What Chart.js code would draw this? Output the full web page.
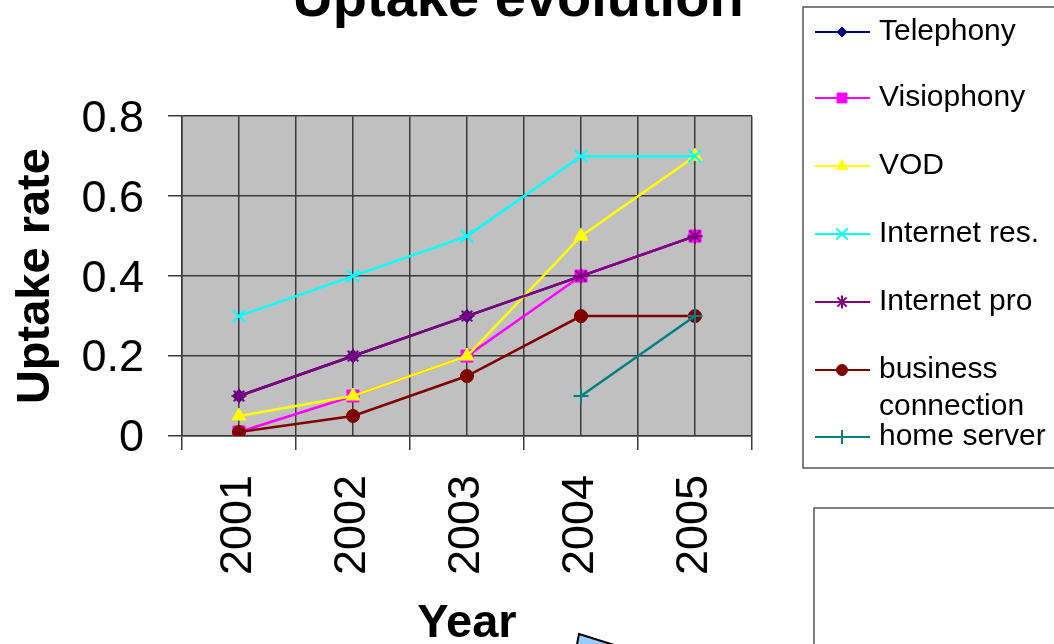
<!DOCTYPE html>
<html>
<head>
<meta charset="utf-8">
<script src="https://cdn.jsdelivr.net/npm/chart.js@4.4.1/dist/chart.umd.min.js"></script>
<style>
  html, body { margin: 0; padding: 0; background: #fff; overflow: hidden; width: 1054px; height: 644px; }
  #wrap { position: absolute; left: 0; top: -40px; width: 1054px; height: 700px; }
</style>
</head>
<body>
<div id="wrap"><canvas id="c" width="1054" height="700"></canvas></div>
<script>
const categories = ['2001', '2002', '2003', '2004', '2005'];
const telephony = [0.1, 0.2, 0.3, 0.4, 0.5];
const visiophony = [0.01, 0.1, 0.2, 0.4, 0.5];
const vod = [0.05, 0.1, 0.2, 0.5, 0.7];
const internetRes = [0.3, 0.4, 0.5, 0.7, 0.7];
const internetPro = [0.1, 0.2, 0.3, 0.4, 0.5];
const businessConnection = [0.01, 0.05, 0.15, 0.3, 0.3];
const homeServer = [null, null, null, 0.1, 0.3];
const seriesNames = ['Telephony', 'Visiophony', 'VOD', 'Internet res.', 'Internet pro', 'business connection', 'home server'];
const yTickValues = [0, 0.2, 0.4, 0.6, 0.8];

const FONT = '"Liberation Sans", Arial, sans-serif';
const OFF = 40; // canvas is shifted up by 40px
const GRID = '#3a3a3a';

function ds(i, data, color, style, radius, legendRadius, extra) {
  return Object.assign({
    label: seriesNames[i], data,
    order: 10 - i,
    borderColor: color, backgroundColor: color,
    pointBackgroundColor: color, pointBorderColor: color,
    pointStyle: style, pointRadius: radius, pointHoverRadius: radius,
    legendRadius,
    borderWidth: 2.5, pointBorderWidth: 1, tension: 0, fill: false, spanGaps: false
  }, extra || {});
}

const datasets = [
  ds(0, telephony, '#000080', 'rectRot', 6.5, 5),
  ds(1, visiophony, '#FF00FF', 'rect', 8.5, 7),
  ds(2, vod, '#FFFF00', 'triangle', 8, 6.5),
  ds(3, internetRes, '#00FFFF', 'crossRot', 9, 8, {pointBorderWidth: 2}),
  ds(4, internetPro, '#800080', 'star', 7.5, 6.5, {pointBorderWidth: 2}),
  ds(5, businessConnection, '#800000', 'circle', 6.5, 5.5),
  ds(6, homeServer, '#008080', 'cross', 7.5, 7, {pointBorderWidth: 2})
];

const legendRows = [32, 98, 166, 234, 302, 370, 437];

const decor = {
  id: 'decor',
  beforeDraw(chart) {
    const {ctx, chartArea: a} = chart;
    ctx.save();
    ctx.fillStyle = '#C0C0C0';
    ctx.fillRect(a.left, a.top, a.right - a.left, a.bottom - a.top);
    ctx.restore();
  },
  afterDraw(chart) {
    const ctx = chart.ctx;
    ctx.save();
    ctx.strokeStyle = '#555';
    ctx.lineWidth = 1.5;
    ctx.strokeRect(803, 7 + OFF, 300, 461);
    ctx.strokeRect(814, 508 + OFF, 300, 200);
    ctx.font = '30px ' + FONT;
    ctx.textBaseline = 'middle';
    ctx.textAlign = 'left';
    chart.data.datasets.forEach((d, i) => {
      const y = legendRows[i] + OFF;
      ctx.strokeStyle = d.borderColor;
      ctx.fillStyle = d.borderColor;
      ctx.lineWidth = 2;
      ctx.beginPath();
      ctx.moveTo(815, y);
      ctx.lineTo(870, y);
      ctx.stroke();
      ctx.lineWidth = d.pointBorderWidth;
      Chart.helpers.drawPoint(ctx, {
        pointStyle: d.pointStyle, radius: d.legendRadius, rotation: 0,
        borderWidth: d.pointBorderWidth
      }, 842, y);
      ctx.fillStyle = '#000';
      if (d.label === 'business connection') {
        ctx.fillText('business', 879, y);
        ctx.fillText('connection', 879, y + 37);
      } else {
        ctx.fillText(d.label, 879, y);
      }
    });
    // blue arrow fragment at the bottom
    ctx.beginPath();
    ctx.moveTo(579, 634 + OFF);
    ctx.lineTo(662, 660 + OFF);
    ctx.lineTo(574, 660 + OFF);
    ctx.closePath();
    ctx.fillStyle = '#99CCFF';
    ctx.fill();
    ctx.strokeStyle = '#000';
    ctx.lineWidth = 2;
    ctx.stroke();
    ctx.restore();
  }
};

new Chart(document.getElementById('c'), {
  type: 'line',
  data: { labels: categories, datasets },
  options: {
    responsive: false,
    animation: false,
    layout: { padding: { left: 0, right: 18, top: 0, bottom: 0 } },
    plugins: {
      legend: { display: false },
      tooltip: { enabled: false },
      title: {
        display: true,
        text: 'Uptake evolution',
        color: '#000',
        font: { family: FONT, size: 56, weight: 'bold' },
        padding: { top: 7, bottom: 82 }
      }
    },
    scales: {
      x: {
        type: 'category',
        position: 'bottom',
        offset: true,
        grid: { offset: true, color: GRID, lineWidth: 1.5, tickLength: 14, drawTicks: true },
        border: { color: GRID, width: 1.5 },
        ticks: {
          color: '#000', font: { family: FONT, size: 45 },
          minRotation: 90, maxRotation: 90, padding: 25, autoSkip: false
        },
        title: { display: true, text: 'Year', color: '#000', font: { family: FONT, size: 47, weight: 'bold' }, padding: { top: 0, bottom: 8 } },
        afterFit(s) { s.height = 224; }
      },
      x2: {
        type: 'category',
        position: 'bottom',
        offset: true,
        grid: { offset: false, color: GRID, lineWidth: 1.5, drawTicks: false },
        border: { display: false },
        ticks: { display: false },
        afterFit(s) { s.height = 0; }
      },
      y: {
        min: 0, max: 0.8,
        afterBuildTicks(s) { s.ticks = yTickValues.map(v => ({ value: v })); },
        grid: { color: GRID, lineWidth: 1.5, tickLength: 14, drawTicks: true },
        border: { color: GRID, width: 1.5 },
        ticks: { color: '#000', font: { family: FONT, size: 45 }, padding: 24, labelOffset: 3 },
        title: { display: true, text: 'Uptake rate', color: '#000', font: { family: FONT, size: 47, weight: 'bold' }, padding: { top: 8, bottom: 0 } },
        afterFit(s) { s.width = 182; }
      },
      y2: {
        type: 'linear',
        position: 'right',
        grid: { display: false, drawTicks: false },
        border: { display: false },
        ticks: { display: false },
        afterFit(s) { s.width = 284; }
      }
    }
  },
  plugins: [decor]
});
</script>
</body>
</html>
